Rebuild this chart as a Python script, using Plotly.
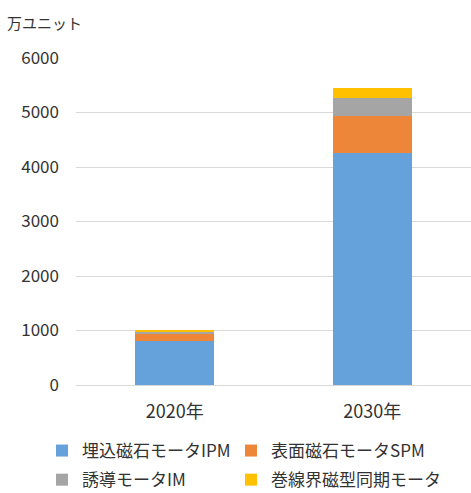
import plotly.graph_objects as go

categories = ["2020年", "2030年"]
ipm = [800, 4250]
spm = [140, 680]
im = [50, 330]
wf = [10, 190]
series_names = ["埋込磁石モータIPM", "表面磁石モータSPM", "誘導モータIM", "巻線界磁型同期モータ"]
colors = ["#65A2DC", "#EE8639", "#A5A5A5", "#FFC000"]
legend_ids = ["legend", "legend2", "legend", "legend2"]
y_ticks = [0, 1000, 2000, 3000, 4000, 5000, 6000]

FONT = "Noto Sans CJK JP"
TXT = "#333333"

fig = go.Figure()
for i, (name, vals, col, lg) in enumerate(zip(series_names, [ipm, spm, im, wf], colors, legend_ids)):
    fig.add_trace(go.Bar(x=categories, y=vals, name=name, marker_color=col,
                         marker_line_width=0, legend=lg, legendgroup=f"g{i}"))

leg_common = dict(orientation="v", xanchor="left", yanchor="top", traceorder="grouped",
                  font=dict(size=17, family=FONT, color=TXT), tracegroupgap=4,
                  itemwidth=30, bgcolor="rgba(0,0,0,0)")

fig.update_layout(
    barmode="stack",
    bargap=0.6,
    width=471, height=493,
    margin=dict(l=76, r=0, t=58, b=108, autoexpand=False),
    plot_bgcolor="white", paper_bgcolor="white",
    font=dict(family=FONT, color=TXT, size=16),
    showlegend=True,
    legend=dict(x=(42 - 76) / 395, y=(385 - 433) / 327, **leg_common),
    legend2=dict(x=(231 - 76) / 395, y=(385 - 433) / 327, **leg_common),
    xaxis=dict(showgrid=False, showline=True, linecolor="#D9D9D9", linewidth=1,
               tickfont=dict(size=18, family=FONT, color=TXT), ticks="",
               ticklabelstandoff=10),
    yaxis=dict(range=[0, 6000], tickvals=y_ticks, showgrid=True, gridcolor="#D9D9D9",
               gridwidth=1, zeroline=False, showline=False, ticks="",
               tickfont=dict(size=17, family=FONT, color=TXT), ticklabelstandoff=16),
    annotations=[dict(text="万ユニット", xref="paper", yref="paper", x=-0.18, y=1.11,
                      xanchor="left", yanchor="middle", showarrow=False,
                      font=dict(size=15, family=FONT, color=TXT))],
)
fig.write_html("out.html")
